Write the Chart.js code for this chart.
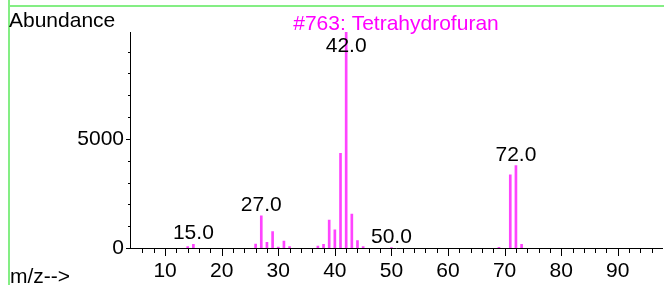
<!DOCTYPE html>
<html>
<head>
<meta charset="utf-8">
<script src="https://cdn.jsdelivr.net/npm/chart.js@4.4.1/dist/chart.umd.min.js"></script>
<style>
  html, body { margin: 0; padding: 0; background: #fff; }
  #wrap { width: 664px; height: 285px; }
</style>
</head>
<body>
<div id="wrap"><canvas id="ms" width="664" height="285"></canvas></div>
<script>
// m/z values and their abundance
const mz        = [14, 15, 26, 27, 28, 29, 30, 31, 32, 37, 38, 39, 40, 41, 42, 43, 44, 45, 50, 69, 71, 72, 73];
const abundance = [60, 170, 180, 1480, 260, 750, 40, 320, 60, 90, 170, 1280, 830, 4340, 9900, 1550, 340, 70, 20, 30, 3350, 3780, 170];

// peaks that carry a label
const peakLabels = [15, 27, 42, 50, 72];

// axis ticks
const xLabels = [10, 20, 30, 40, 50, 60, 70, 80, 90];
const yLabels = [0, 5000];
const xMinor = [];
for (let v = 6; v <= 96; v += 2) xMinor.push(v);
const yMinor = [];
for (let v = 0; v <= 9000; v += 1000) yMinor.push(v);

const FONT = "'Liberation Sans', Arial, sans-serif";
Chart.defaults.font.family = FONT;
Chart.defaults.font.size = 21;
Chart.defaults.color = '#000';

const decor = {
  id: 'decor',
  beforeDraw(chart) {
    const c = chart.ctx;
    c.save();
    c.fillStyle = '#fff';
    c.fillRect(0, 0, chart.width, chart.height);
    c.strokeStyle = '#84ee84';
    c.lineWidth = 2;
    c.beginPath();
    c.moveTo(9, 6); c.lineTo(chart.width, 6);
    c.moveTo(9, 0); c.lineTo(9, chart.height);
    c.stroke();
    c.restore();
  },
  afterDraw(chart) {
    const c = chart.ctx;
    const x = chart.scales.x, y = chart.scales.y;
    const base = chart.chartArea.bottom;
    c.save();
    c.strokeStyle = '#000';
    c.lineWidth = 1;
    c.beginPath();
    xMinor.forEach(v => {
      const px = Math.round(x.getPixelForValue(v)) + 0.5;
      const len = xLabels.includes(v) ? 8 : 5;
      c.moveTo(px, base); c.lineTo(px, base + len);
    });
    yMinor.forEach(v => {
      const py = Math.round(y.getPixelForValue(v)) + 0.5;
      const len = yLabels.includes(v) ? 4 : 2;
      c.moveTo(x.left - len, py); c.lineTo(x.left, py);
    });
    c.stroke();

    c.font = '21px ' + FONT;
    c.fillStyle = '#000';
    c.textAlign = 'center';
    c.textBaseline = 'alphabetic';
    peakLabels.forEach(m => {
      const i = mz.indexOf(m);
      const top = y.getPixelForValue(abundance[i]);
      c.fillText(m.toFixed(1), x.getPixelForValue(m), Math.max(top - 5, 52));
    });

    c.textAlign = 'left';
    c.fillText('Abundance', 9, 27);
    c.fillText('m/z-->', 10, 283);
    c.fillStyle = '#ff00ff';
    c.textAlign = 'center';
    c.fillText('#763: Tetrahydrofuran', 396, 30);
    c.restore();
  }
};

new Chart(document.getElementById('ms'), {
  type: 'bar',
  data: {
    datasets: [{
      data: mz.map((m, i) => ({ x: m, y: abundance[i] })),
      backgroundColor: '#ff44ff',
      borderWidth: 0,
      barThickness: 2
    }]
  },
  options: {
    responsive: false,
    animation: false,
    layout: { padding: { top: 32, right: 1.5, left: 0, bottom: 0 } },
    plugins: { legend: { display: false }, tooltip: { enabled: false } },
    scales: {
      x: {
        type: 'linear',
        offset: false,
        min: 3.8,
        max: 97.9,
        grid: { display: false, drawTicks: false, offset: false },
        border: { display: true, color: '#000', width: 1 },
        afterBuildTicks: s => { s.ticks = xLabels.map(v => ({ value: v })); },
        ticks: { padding: 11, maxRotation: 0, autoSkip: false, callback: v => String(v) },
        afterFit: s => { s.height = 37; }
      },
      y: {
        min: 0,
        max: 9900,
        grid: { display: false, drawTicks: false },
        border: { display: true, color: '#000', width: 1 },
        afterBuildTicks: s => { s.ticks = yLabels.map(v => ({ value: v })); },
        ticks: { padding: 6, autoSkip: false, callback: v => String(v) },
        afterFit: s => { s.width = 130; }
      }
    }
  },
  plugins: [decor]
});
</script>
</body>
</html>
